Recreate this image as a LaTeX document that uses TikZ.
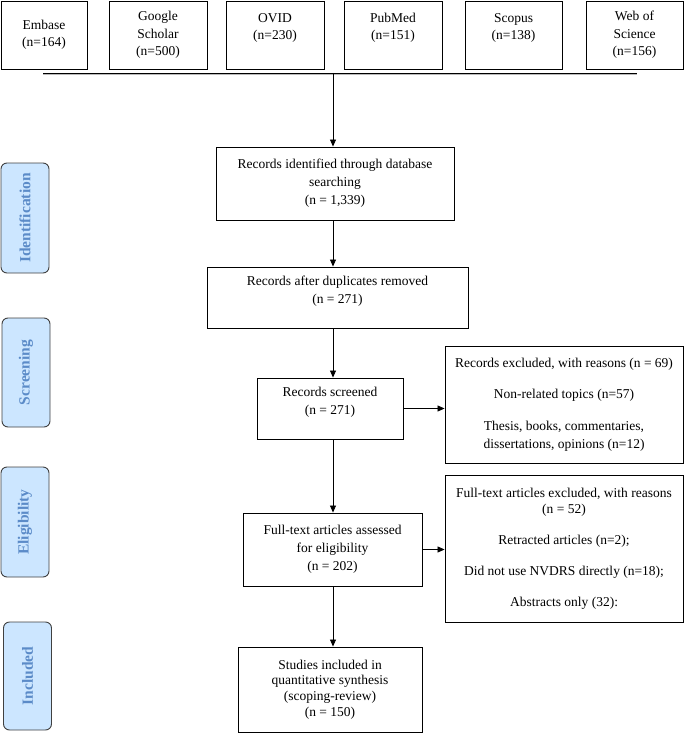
\documentclass[tikz,border=0pt]{standalone}
\usepackage{fontspec}
\setmainfont{Liberation Serif}
\usepackage{tikz}
\usetikzlibrary{arrows.meta, positioning}
\definecolor{phasefill}{HTML}{CCE6FF}
\definecolor{phasetext}{HTML}{5B8BC8}
\newcommand{\bodyfont}{\fontsize{13.5}{18}\selectfont}
\tikzstyle{source} = [draw=black, line width=0.9pt, minimum width=97pt, minimum height=68pt, align=center,
                      inner sep=0, font=\fontsize{13.5}{17.5}\selectfont]
\tikzstyle{raised} = [text depth=17pt]
\tikzstyle{stage} = [draw=black, line width=0.9pt, align=center, inner sep=0, font=\bodyfont]
\tikzstyle{phase} = [draw=black!75, line width=0.9pt, fill=phasefill, rounded corners=6pt, rotate=90,
                     minimum width=110pt, minimum height=48pt, inner sep=0, text=phasetext,
                     font=\fontsize{15.5}{18}\selectfont\bfseries]
\tikzstyle{flow} = [line width=0.8pt, -{Triangle[width=6pt, length=7pt]}]

\begin{document}
\begin{tikzpicture}[x=1pt, y=-1pt]
				\useasboundingbox (0, 0) rectangle (685, 733);

				% databases
				\node (Embase) [source, minimum width=86pt] at (44, 35) {Embase\\(n=164)};
				\node (Google) [source, minimum width=98pt] at (158, 35) {Google\\Scholar\\(n=500)};
				\node (Ovid) [source, raised, minimum width=98pt] at (275, 35) {OVID\\(n=230)};
				\node (PubMed) [source, raised, minimum width=98pt] at (393, 35) {PubMed\\(n=151)};
				\node (Scopus) [source, raised] at (513.5, 35) {Scopus\\(n=138)};
				\node (WoS) [source] at (634.5, 35) {Web of\\Science\\(n=156)};

				\coordinate (BarLeft) at (43, 73);
				\coordinate (BarRight) at (637, 73);
				\coordinate (Spine) at (333, 73);
				\draw [gray!55, line width=1pt] ([yshift=-1.6pt]BarLeft) -- ([yshift=-1.6pt]BarRight);
				\draw [line width=0.9pt] (BarLeft) -- (BarRight);

				% identification
				\node (Identified) [stage, minimum width=238pt, minimum height=73pt] at (335, 183.5)
					{Records identified through database\\searching\\(n = 1,339)};
				\draw [flow] (Spine) -- (Identified.north -| Spine);

				\node (Duplicates) [stage, minimum width=261pt, minimum height=61pt] at (337.5, 297.5)
					{Records after duplicates removed\\(n = 271)\\[-3pt]};
				\draw [flow] (Identified.south -| Spine) -- (Duplicates.north -| Spine);

				% screening
				\node (Screened) [stage, minimum width=146pt, minimum height=61pt] at (330, 408.5)
					{Records screened\\(n = 271)\\[-3pt]};
				\draw [flow] (Duplicates.south -| Spine) -- (Screened.north -| Spine);

				\node (Excluded) [stage, minimum width=238pt, minimum height=117pt] at (564, 404.5)
					{Records excluded, with reasons (n = 69)\\[13.4pt]
					 Non-related topics (n=57)\\[13.4pt]
					 Thesis, books, commentaries,\\dissertations, opinions (n=12)};
				\draw [flow] (Screened.east) -- (Excluded.west |- Screened.east);

				% eligibility
				\node (Assessed) [stage, minimum width=179pt, minimum height=73pt] at (332.5, 549.5)
					{Full-text articles assessed\\for eligibility\\(n = 202)};
				\draw [flow] (Screened.south -| Spine) -- (Assessed.north -| Spine);

				\node (Removed) [stage, minimum width=238pt, minimum height=147pt, font=\fontsize{13.5}{16}\selectfont]
					at (564, 548.5)
					{Full-text articles excluded, with reasons\\(n = 52)\\[15pt]
					 Retracted articles (n=2);\\[15pt]
					 Did not use NVDRS directly (n=18);\\[15pt]
					 Abstracts only (32):};
				\draw [flow] (Assessed.east) -- (Removed.west |- Assessed.east);

				% included
				\node (Included) [stage, minimum width=184pt, minimum height=85pt, font=\fontsize{13.5}{15.6}\selectfont]
					at (330, 689.5)
					{Studies included in\\quantitative synthesis\\(scoping-review)\\(n = 150)};
				\draw [flow] (Assessed.south -| Spine) -- (Included.north -| Spine);

				% phases
				\node (PhaseId) [phase] at (25, 218) {Identification};
				\node (PhaseScr) [phase, minimum width=109pt] at (26, 372.5) {Screening};
				\node (PhaseElig) [phase] at (25, 522) {Eligibility};
				\node (PhaseInc) [phase, minimum width=108pt] at (27.5, 676) {Included};
\end{tikzpicture}
\end{document}
